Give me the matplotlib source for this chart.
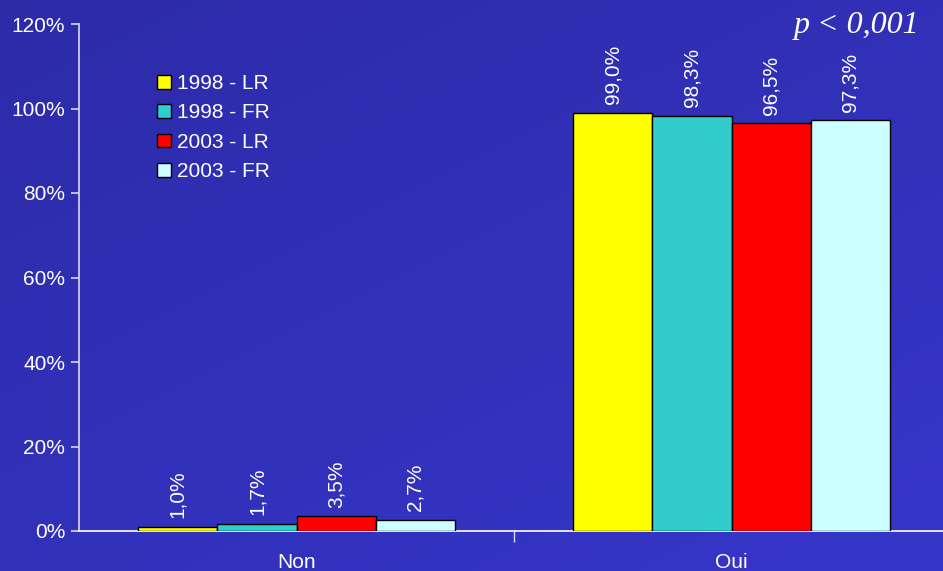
import numpy as np
import matplotlib
matplotlib.use("Agg")
import matplotlib.pyplot as plt
from matplotlib.patches import Patch

categories = ["Non", "Oui"]
series = ["1998 - LR", "1998 - FR", "2003 - LR", "2003 - FR"]
values = {
    "1998 - LR": [1.0, 99.0],
    "1998 - FR": [1.7, 98.3],
    "2003 - LR": [3.5, 96.5],
    "2003 - FR": [2.7, 97.3],
}
labels = {
    "1998 - LR": ["1,0%", "99,0%"],
    "1998 - FR": ["1,7%", "98,3%"],
    "2003 - LR": ["3,5%", "96,5%"],
    "2003 - FR": ["2,7%", "97,3%"],
}
colors = ["#FFFF00", "#33CCCC", "#FF0000", "#CCFFFF"]
yticks = [0, 20, 40, 60, 80, 100, 120]
ytick_labels = ["0%", "20%", "40%", "60%", "80%", "100%", "120%"]

plt.rcParams['font.family'] = ['Liberation Sans', 'DejaVu Sans']

W, H = 943, 571
fig = plt.figure(figsize=(W / 100, H / 100), dpi=100)

# gradient background
bg = fig.add_axes([0, 0, 1, 1], zorder=-10)
yy, xx = np.mgrid[0:1:200j, 0:1:300j]
t = (0.55 * yy + 0.45 * xx)
c0 = np.array([45, 43, 168]) / 255.0
c1 = np.array([54, 54, 202]) / 255.0
img = c0[None, None, :] * (1 - t[..., None]) + c1[None, None, :] * t[..., None]
bg.imshow(img, aspect='auto', extent=[0, 1, 0, 1], origin='upper')
bg.axis('off')

ax = fig.add_axes([79 / W, (H - 531) / H, 870 / W, (531 - 24) / H])
ax.patch.set_alpha(0)

x = np.arange(len(categories))
bw = 0.182
for i, s in enumerate(series):
    pos = x + (i - 1.5) * bw
    ax.bar(pos, values[s], width=bw, color=colors[i], edgecolor='black',
           linewidth=1.0, label=s, zorder=3)
    for p, v, lab in zip(pos, values[s], labels[s]):
        ax.annotate(lab, (p, v), xytext=(0, 6), textcoords='offset points',
                    rotation=90, ha='center', va='bottom', color='white',
                    fontsize=15)

ax.set_xlim(-0.5, 1.5)
ax.set_ylim(0, 120)
ax.set_yticks(yticks)
ax.set_yticklabels(ytick_labels)
ax.set_xticks(x)
ax.set_xticklabels(categories)
ax.set_xticks([0.5], minor=True)

spine_col = '#D8D8F0'
for side in ['top', 'right']:
    ax.spines[side].set_visible(False)
ax.spines['left'].set_color(spine_col)
ax.spines['bottom'].set_color('white')
ax.spines['left'].set_linewidth(1.2)
ax.spines['bottom'].set_linewidth(1.2)
ax.tick_params(axis='y', colors=spine_col, labelcolor='white', labelsize=15,
               length=6, width=1.2, direction='out', pad=4)
ax.tick_params(axis='x', which='major', length=0, labelcolor='white',
               labelsize=15, pad=16)
ax.tick_params(axis='x', which='minor', length=8, width=1, color=spine_col,
               direction='out')

handles = [Patch(facecolor=c, edgecolor='black', linewidth=1.0) for c in colors]
leg = ax.legend(handles, series, loc='upper left',
                bbox_to_anchor=(157 / W, (H - 74) / H), bbox_transform=fig.transFigure,
                frameon=False, fontsize=15, handlelength=0.65, handleheight=0.65,
                handletextpad=0.3, labelspacing=0.5, borderpad=0, borderaxespad=0)
for t_ in leg.get_texts():
    t_.set_color('white')

fig.text(920 / W, (H - 25) / H, "p < 0,001", ha='right', va='center',
         fontsize=23, color='white', style='italic',
         family=['Liberation Serif', 'DejaVu Serif'])

fig.savefig("out.png", dpi=100)
